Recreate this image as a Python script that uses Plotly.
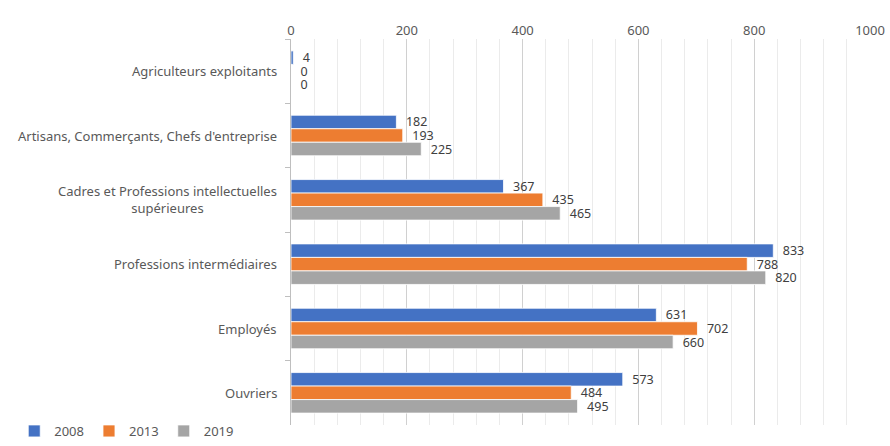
import plotly.graph_objects as go

categories = ["Agriculteurs exploitants",
              "Artisans, Commerçants, Chefs d'entreprise",
              "Cadres et Professions intellectuelles<br>supérieures",
              "Professions intermédiaires",
              "Employés",
              "Ouvriers"]
years = ["2008", "2013", "2019"]
v2008 = [4, 182, 367, 833, 631, 573]
v2013 = [0, 193, 435, 788, 702, 484]
v2019 = [0, 225, 465, 820, 660, 495]
colors = ["#4472C4", "#ED7D31", "#A5A5A5"]

FONT = "Noto Sans"
fig = go.Figure()
for name, vals, col in zip(years, [v2008, v2013, v2019], colors):
    fig.add_trace(go.Bar(
        y=categories, x=vals, name=name, orientation="h",
        marker=dict(color=col, line=dict(color="white", width=0.8)),
        text=["\u00a0\u00a0" + str(v) for v in vals], textposition="outside",
        constraintext="none",
        textfont=dict(family=FONT, size=12.5, color="#404040"),
        cliponaxis=False,
    ))

for c in categories:
    fig.add_annotation(x=0, xref="paper", y=c, yref="y", text=c, showarrow=False,
                       xanchor="right", align="center", xshift=-12,
                       font=dict(family=FONT, size=13, color="#595959"))

fig.update_layout(
    width=890, height=446, margin=dict(l=291, r=20, t=39, b=21, autoexpand=False),
    paper_bgcolor="white", plot_bgcolor="white",
    barmode="group", bargap=0.37, bargroupgap=0.0,
    font=dict(family=FONT, size=13, color="#595959"),
    xaxis=dict(side="top", range=[0, 1000], dtick=200, showgrid=True,
               gridcolor="#D0D0D0", gridwidth=1, zeroline=False,
               minor=dict(dtick=40, showgrid=True, gridcolor="#EBEBEB"),
               tickfont=dict(family=FONT, size=13, color="#595959"), showline=False),
    yaxis=dict(autorange="reversed", showticklabels=False, showline=True,
               linecolor="#BFBFBF", ticks="outside", tickson="boundaries",
               ticklen=5, tickcolor="#BFBFBF", showgrid=False),
    legend=dict(orientation="h", xref="container", yref="container", x=0.016, y=-0.03,
                xanchor="left", yanchor="bottom", itemwidth=30, tracegroupgap=0,
                font=dict(family=FONT, size=13, color="#595959")),
    showlegend=True,
)
fig.write_html("out.html")
